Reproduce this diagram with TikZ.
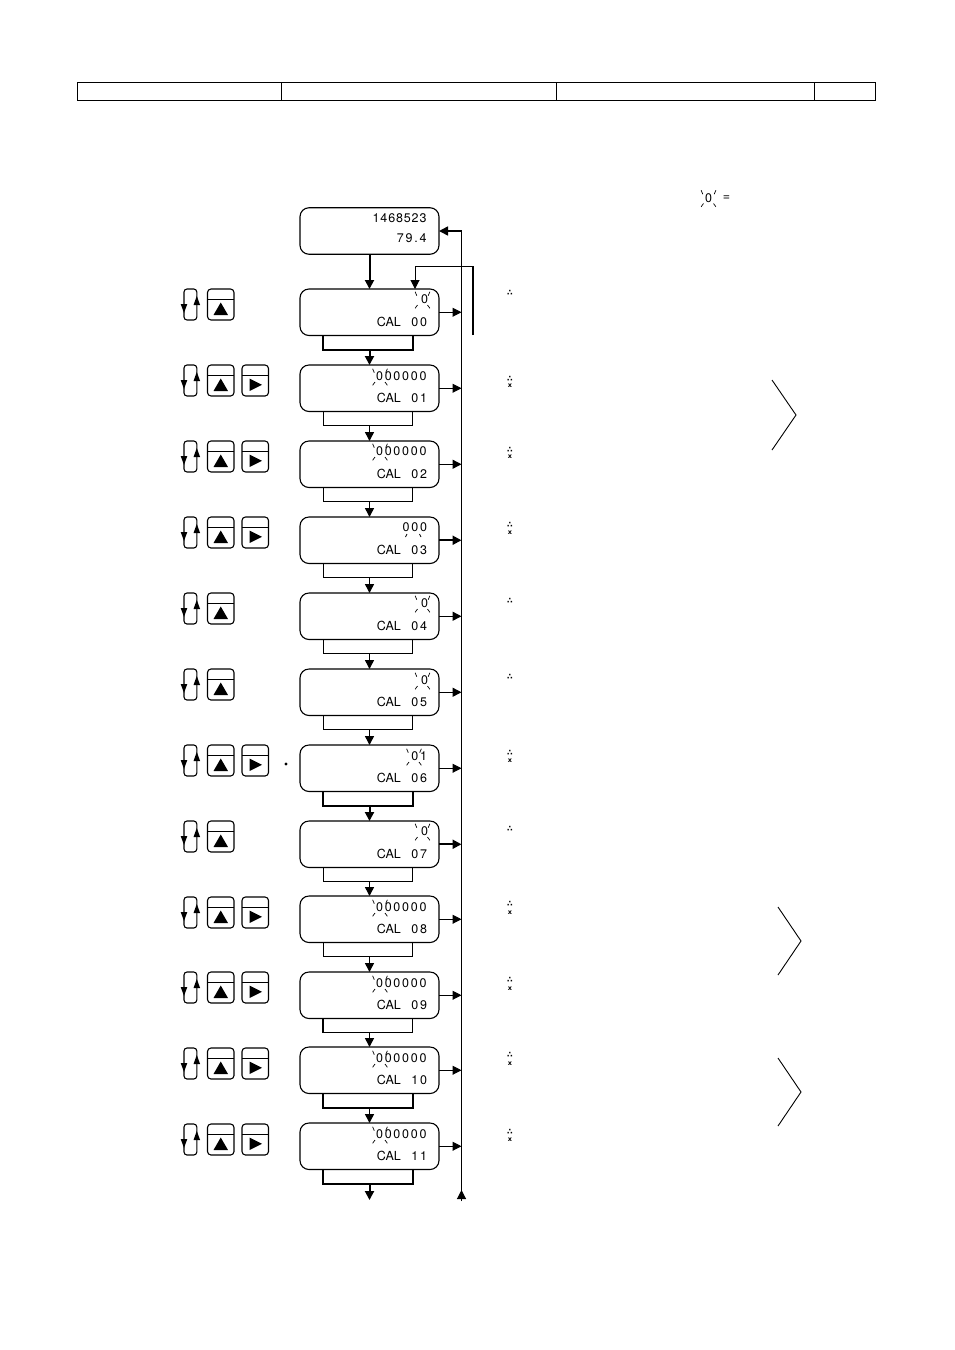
\documentclass[tikz,border=0pt]{standalone}
\usepackage{fontspec}
\usetikzlibrary{arrows.meta}
\newfontfamily\lcdfont{TeX Gyre Heros}
\newfontfamily\lcdwidefont[LetterSpace=14]{TeX Gyre Heros}
\newfontfamily\lcdmidfont[LetterSpace=7]{TeX Gyre Heros}
\newfontfamily\symfont{DejaVu Sans}
\newcommand{\lcdn}{\lcdfont\fontsize{12.5}{12.5}\selectfont}
\newcommand{\lcdw}{\lcdwidefont\fontsize{12.5}{12.5}\selectfont}
\newcommand{\lcdm}{\lcdmidfont\fontsize{12.5}{12.5}\selectfont}
\tikzset{
  calbox/.style={draw=black,line width=1.1pt,rounded corners=9pt,minimum width=139pt,minimum height=46.5pt,inner sep=0pt,outer sep=0pt},
  lcdtext/.style={inner sep=0pt,outer sep=0pt,anchor=east},
  digit/.style={inner sep=0pt,outer sep=0pt},
  tiny/.style={inner sep=0pt,outer sep=0pt},
  arr/.style={-{Triangle[length=9pt,width=9pt]}},
  ray/.style={line width=0.7pt},
  keyline/.style={line width=1.1pt,rounded corners=3.5pt},
}
\newcommand{\blinkrays}[2]{%
  \draw[ray] (#1-7.4,#2-7.3)--(#1-5.7,#2-3.3) (#1+7.4,#2-7.3)--(#1+5.7,#2-3.3)
             (#1-7.4,#2+9.3)--(#1-5,#2+6) (#1+7.4,#2+9.3)--(#1+5,#2+6);}
\newcommand{\loopicon}[1]{%
  \draw[line width=1.1pt,rounded corners=3pt] (184,#1) rectangle (196.8,#1+31);
  \fill (180.7,#1+15)--(187.3,#1+15)--(184,#1+24)--cycle;
  \fill (193.5,#1+16)--(200.1,#1+16)--(196.8,#1+7)--cycle;}
\newcommand{\keyup}[1]{%
  \draw[keyline] (207.5,#1) rectangle (234,#1+31);
  \draw[line width=1pt] (207.5,#1+10.5)--(234,#1+10.5);
  \fill (213.5,#1+26)--(228,#1+26)--(220.75,#1+13.5)--cycle;}
\newcommand{\keyright}[1]{%
  \draw[keyline] (242,#1) rectangle (268.5,#1+31);
  \draw[line width=1pt] (242,#1+10.5)--(268.5,#1+10.5);
  \fill (249.5,#1+13.5)--(249.5,#1+26)--(262,#1+19.75)--cycle;}
\begin{document}
\begin{tikzpicture}[x=1pt,y=-1pt]
\useasboundingbox (0,0) rectangle (954,1350);
\fill[white] (0,0) rectangle (954,1350);
% header table
\draw[line width=1pt] (77.5,82) rectangle (875.5,100.5);
\draw[line width=1pt] (281.5,82)--(281.5,100.5) (556.5,82)--(556.5,100.5) (814.5,82)--(814.5,100.5);
% legend
\node[digit,font=\lcdn] (legzero) at (708.5,198) {0};
\blinkrays{708.5}{197.5}
\node[digit,font=\lcdn] (legeq) at (726.5,198) {=};
% start box
\node[calbox] (b0) at (369.5,231) {};
\node[lcdtext] (t0a) at (426.5,218) {\lcdm 1468523};
\node[lcdtext] (t0b) at (426.5,238) {\lcdw 79.4};
% calibration boxes, keys, connectors
\foreach \id/\top/\cal/\up/\upx/\upy/\bw in {
  00/289/00/0/428/299/2,
  01/365/01/000000/426.5/376/1,
  02/441/02/000000/426.5/451/1,
  03/517/03/000/427/527/1,
  04/593/04/0/428/603/1,
  05/669/05/0/428/680/1,
  06/745/06/01/427/756/2,
  07/821/07/0/428/831/1,
  08/896/08/000000/426.5/907/1,
  09/972/09/000000/426.5/983/1.6,
  10/1047/10/000000/426.5/1058/2,
  11/1123/11/000000/426.5/1134/2}{
  \node[calbox] (b\id) at (369.5,\top+23.25) {};
  \node[lcdtext] (u\id) at (\upx,\upy) {\lcdw \up};
  \node[lcdtext] (c\id) at (427,\top+32.5) {{\lcdn CAL}\hspace{10.5pt}{\lcdw \cal}};
  \draw[line width=\bw pt] ([xshift=-46.5pt]b\id.south) -- ([xshift=-46.5pt,yshift=-14pt]b\id.south) -- ([xshift=43pt,yshift=-14pt]b\id.south) -- ([xshift=43pt]b\id.south);
}
% rail
\coordinate (railbot) at (461.5,1201);
\coordinate (railtip) at (461.5,1190);
\coordinate (railtop) at (461.5,231);
\draw[line width=1.2pt] (railbot) -- (railtop);
\draw[arr,line width=1.2pt] (railbot) -- (railtip);
\draw[arr,line width=1.6pt] (railtop) -- (b0.east);
\foreach \id/\aw in {00/1,01/1,02/1.4,03/2,04/1.4,05/1.4,06/1,07/2,08/1,09/1,10/1,11/1}{
  \draw[arr,line width=\aw pt] (b\id.east) -- (b\id.east -| railtop);
}
% vertical flow
\draw[arr,line width=2pt] (b0.south) -- (b00.north);
\foreach \a/\b/\w in {00/01/2,01/02/1.5,02/03/1.5,03/04/1.5,04/05/1.5,05/06/1.5,06/07/2,07/08/1.5,08/09/1.5,09/10/1.5,10/11/1.5}{
  \draw[arr,line width=\w pt] ([yshift=-14pt]b\a.south) -- (b\b.north);
}
\coordinate (flowend) at (369.5,1200);
\draw[arr,line width=2pt] ([yshift=-14pt]b11.south) -- (flowend);
% feedback
\coordinate (fbstart) at (473,335);
\coordinate (fbcorner) at (473,266);
\coordinate (fbbend) at (415,266);
\draw[line width=1.6pt] (fbstart) -- (fbcorner);
\draw[arr,line width=1pt] (fbcorner) -- (fbbend) -- (b00.north -| fbbend);
% blink marks
\foreach \x/\y in {422.5/299,380/376,380/451,422.5/603,422.5/680,414/756,422.5/831,380/907,380/983,380/1058,380/1134}{
  \blinkrays{\x}{\y}
}
\draw[ray] (405.5,537)--(407,534) (421,537)--(419.5,534);
% keys
\foreach \t in {289,365,441,517,593,669,745,821,897,972,1048,1124}{
  \loopicon{\t}
  \keyup{\t}
}
\foreach \t in {365,441,517,745,897,972,1048,1124}{
  \keyright{\t}
}
\fill (286,764) circle (1.6);
% tiny marks
\foreach \y in {293,379,450,525,601,677,753,829,904,980,1055,1132}{
  \node[tiny,font=\symfont\bfseries\fontsize{8}{8}\selectfont] (m\y) at (510,\y) {∴};
}
\foreach \y in {386,457,533,761,913,989,1064,1140}{
  \node[tiny,font=\symfont\bfseries\fontsize{6.5}{6.5}\selectfont] (x\y) at (510,\y) {x};
}
% chevrons
\draw[line width=0.9pt] (772,380)--(796,415)--(772,450);
\draw[line width=0.9pt] (778,907)--(801,941)--(778,975);
\draw[line width=0.9pt] (778,1058)--(801,1092)--(778,1126);
\end{tikzpicture}
\end{document}
